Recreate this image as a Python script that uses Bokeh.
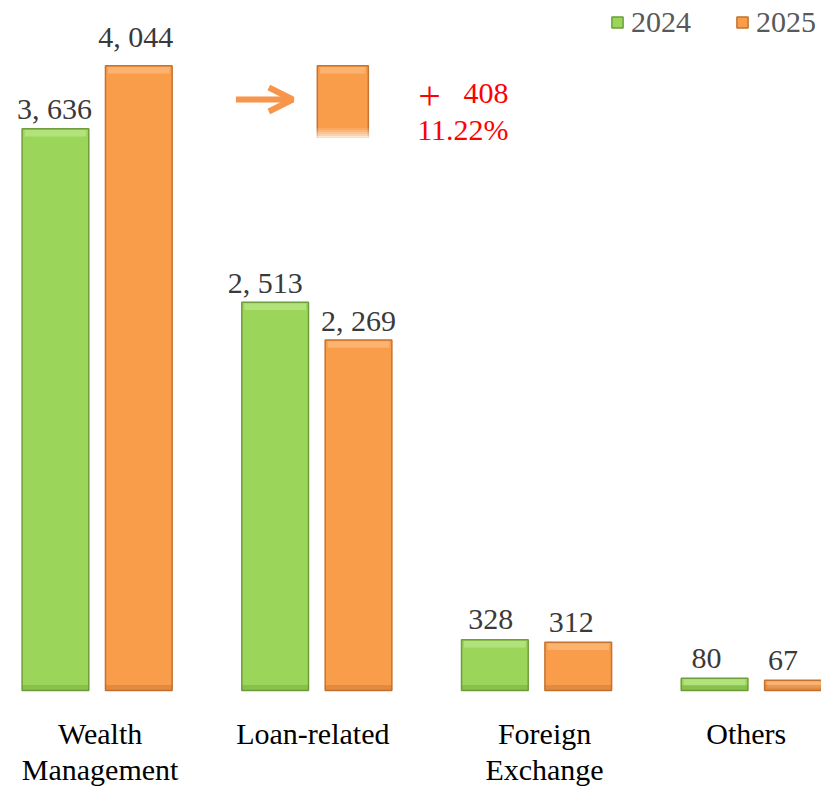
from bokeh.plotting import figure
from bokeh.models import ColumnDataSource, Range1d, Legend, LegendItem, Arrow, OpenHead, Label
from bokeh.embed import file_html
from bokeh.resources import INLINE
from bokeh.core.properties import value

# ---- data ----
categories = ["Wealth\nManagement", "Loan-related", "Foreign\nExchange", "Others"]
years = ["2024", "2025"]
v2024 = [3636, 2513, 328, 80]
v2025 = [4044, 2269, 312, 67]

# ---- styles ----
GREEN, GREEN_EDGE, GREEN_LIGHT, GREEN_DARK = "#9BD65A", "#6E9E3A", "#C4EC97", "#5E8F2E"
ORANGE, ORANGE_EDGE, ORANGE_LIGHT, ORANGE_DARK = "#FA9D4B", "#C47330", "#FDC48F", "#B0602A"
FONT = "Liberation Serif"
FS = "30px"

W, H = 821, 788
SX, SY = W / 837.0, H / 804.0   # reference-to-figure scale
UX = 85.0 * SX                  # px per x unit (one bar slot)
UY = 0.1576 * SY                # px per value unit
X0 = -0.5 - 56.0 * SX / UX
Y0 = -(804 - 704) * SY / UY
G = 224.0 / 85.0                # group spacing in x units

p = figure(width=W, height=H, x_range=Range1d(X0, X0 + W / UX),
           y_range=Range1d(Y0, Y0 + H / UY), output_backend="svg",
           toolbar_location=None, min_border=0)
p.axis.visible = False
p.grid.visible = False
p.outline_line_color = None
p.background_fill_color = "white"


def px_x(ix):
    return X0 + ix * SX / UX


def px_y(iy):
    return Y0 + (804 - iy) * SY / UY


series = [
    (v2024, GREEN, GREEN_EDGE, GREEN_LIGHT, GREEN_DARK, [20, 20, 20, 20], [-1, -10, -4, -8]),
    (v2025, ORANGE, ORANGE_EDGE, ORANGE_LIGHT, ORANGE_DARK, [29, 20, 20, 20], [-3, 0, -7, -15]),
]
renderers = []
for k, (vals, fill, edge, light, dark, raise_px, xoff) in enumerate(series):
    xs = [i * G + (k - 0.5) for i in range(len(categories))]
    src = ColumnDataSource(dict(
        x=xs, top=vals,
        hl_top=[v - 8 for v in vals],
        hl_bot=[max(v - 50, 0) for v in vals],
        sh_top=[min(v, 35) for v in vals],
        label=[f"{v:,}".replace(",", ", ") for v in vals],
        yoff=[-r for r in raise_px],
        xoff=xoff,
    ))
    r = p.vbar(x="x", top="top", bottom=0, width=0.8, source=src,
               fill_color=fill, line_color=edge, line_width=1.5)
    renderers.append(r)
    p.vbar(x="x", top="hl_top", bottom="hl_bot", width=0.74, source=src,
           fill_color=light, fill_alpha=0.55, line_color=None)
    p.vbar(x="x", top="sh_top", bottom=0, width=0.8, source=src,
           fill_color=dark, fill_alpha=0.3, line_color=None)
    p.text(x="x", y="top", text="label", source=src, y_offset="yoff", x_offset="xoff",
           text_align="center", text_baseline="alphabetic",
           text_font=value(FONT), text_font_size=FS, text_color="#3A3A3A")

# category labels
cat_src = ColumnDataSource(dict(x=[i * G for i in range(len(categories))],
                                y=[px_y(731)] * len(categories), text=categories,
                                xoff=[3, -4, 8, -10]))
p.text(x="x", y="y", text="text", source=cat_src, x_offset="xoff", text_align="center",
       text_baseline="top", text_font=value(FONT), text_font_size=FS,
       text_color="black", text_line_height=1.1)

# inset: zoomed top of the 2025 Wealth Management bar
p.quad(left=px_x(323), right=px_x(375), top=v2025[0], bottom=px_y(141),
       fill_color=ORANGE, line_color=ORANGE_EDGE, line_width=1.5)
p.quad(left=px_x(326), right=px_x(372), top=v2025[0] - 8, bottom=v2025[0] - 50,
       fill_color=ORANGE_LIGHT, fill_alpha=0.55, line_color=None)
for j, a in enumerate([0.12, 0.25, 0.4, 0.55, 0.75, 1.0]):
    p.quad(left=px_x(321), right=px_x(377), top=px_y(130 + 2 * j),
           bottom=px_y(132 + 2 * j + (4 if j == 5 else 0)),
           fill_color="white", fill_alpha=a, line_color=None)
p.add_layout(Arrow(end=OpenHead(size=24, line_color="#F7954A", line_width=6),
                   x_start=px_x(240), y_start=px_y(101),
                   x_end=px_x(298), y_end=px_y(101),
                   line_color="#F7954A", line_width=6))

diff = v2025[0] - v2024[0]
pct = diff / v2024[0] * 100
for txt, ix, iy, align, fs in [("+", 426, 97, "left", "40px"), (f"{diff}", 518, 95, "right", FS),
                               (f"{pct:.2f}%", 518, 132, "right", FS)]:
    p.add_layout(Label(x=px_x(ix), y=px_y(iy), text=txt, text_align=align,
                       text_baseline="alphabetic", text_font=FONT,
                       text_font_size=fs, text_color="#FF0000"))

legend = Legend(items=[LegendItem(label=years[0], renderers=[renderers[0]]),
                       LegendItem(label=years[1], renderers=[renderers[1]])],
                location="top_right", orientation="horizontal",
                label_text_font=FONT, label_text_font_size=FS,
                label_text_color="#595959", glyph_width=14, glyph_height=14,
                label_standoff=7, spacing=44, padding=0, margin=5,
                border_line_alpha=0, background_fill_alpha=0)
p.add_layout(legend)

open("out.html", "w").write(file_html(p, INLINE))
